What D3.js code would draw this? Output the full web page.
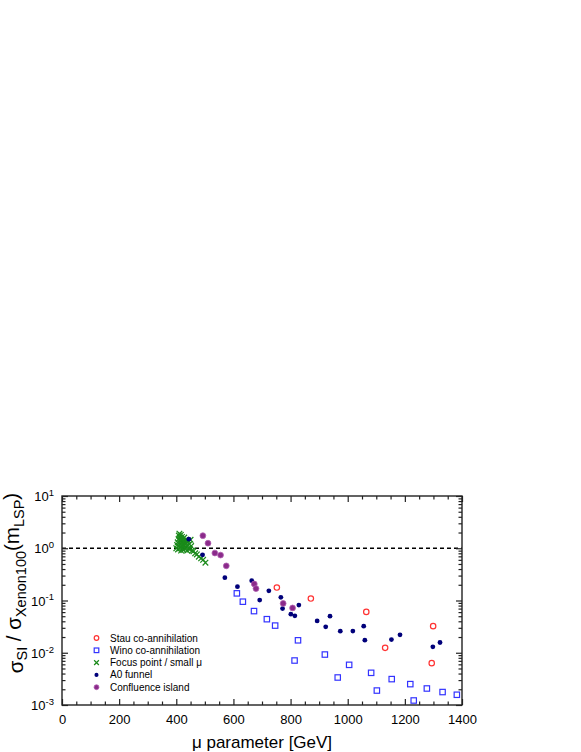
<!DOCTYPE html>
<html><head><meta charset="utf-8">
<script src="https://cdn.jsdelivr.net/npm/d3@7"></script>
<style>body{margin:0;background:#fff} svg{display:block} text{font-family:"Liberation Sans",Arial,sans-serif}</style>
</head><body><svg id="c" width="581" height="752"></svg>
<script>
// ---- data ----
const xTickValues = [0, 200, 400, 600, 800, 1000, 1200, 1400];
const yTickExponents = [-3, -2, -1, 0, 1];

const stauMu    = [752, 871, 1065, 1131, 1299, 1294];
const stauSigma = [0.177, 0.109, 0.0605, 0.0124, 0.0323, 0.00633];

const winoMu    = [612, 633, 672, 717, 746, 826, 814, 920, 965, 1005, 1082, 1102, 1154, 1219, 1231, 1277, 1332, 1382];
const winoSigma = [0.137, 0.0949, 0.0627, 0.0439, 0.0331, 0.0173, 0.0071, 0.00924, 0.00336, 0.00587, 0.00413, 0.00189, 0.00313, 0.00251, 0.00122, 0.00207, 0.00177, 0.00157];

const focusMu    = [400, 403, 405, 406, 408, 409, 410, 411, 412, 413, 414, 415, 416, 417, 418, 419, 420, 421, 422, 423, 424, 425, 426, 427, 428, 430, 431, 432, 434, 435, 437, 438, 440, 442, 444, 446, 448, 450, 452, 455, 460, 466, 472, 479, 487, 494, 502];
const focusSigma = [1.0, 1.15, 1.3, 0.95, 1.5, 1.75, 1.1, 1.9, 1.4, 1.0, 1.6, 1.25, 1.8, 0.9, 1.45, 1.1, 1.65, 1.3, 1.0, 1.5, 1.2, 0.92, 1.4, 1.1, 1.6, 1.3, 0.98, 1.2, 1.45, 1.05, 1.3, 0.9, 1.15, 1.4, 1.0, 1.2, 0.95, 1.45, 1.1, 0.9, 0.88, 0.8, 0.76, 0.69, 0.64, 0.6, 0.53];

const a0Mu    = [444, 492, 570, 614, 664, 692, 724, 766, 772, 801, 815, 829, 893, 923, 938, 974, 1018, 1056, 1060, 1153, 1183, 1298, 1323];
const a0Sigma = [1.49, 0.75, 0.274, 0.184, 0.240, 0.102, 0.153, 0.115, 0.070, 0.0547, 0.0508, 0.0817, 0.0407, 0.0313, 0.0501, 0.0259, 0.026, 0.0323, 0.0174, 0.0179, 0.0220, 0.0130, 0.0157];

const confMu    = [493, 511, 535, 555, 575, 673, 679, 774, 807];
const confSigma = [1.74, 1.25, 0.81, 0.74, 0.46, 0.207, 0.169, 0.088, 0.072];

const legendLabels = ["Stau co-annihilation", "Wino co-annihilation", "Focus point / small \u03bc", "A0 funnel", "Confluence island"];
const legendKeys   = ["stau", "wino", "focus", "a0", "conf"];

// ---- chart ----
const svg = d3.select("#c");
const L = 62, R = 462, T = 496, B = 705;
const x = d3.scaleLinear().domain([0, 1400]).range([L, R]);
const y = d3.scaleLog().domain([1e-3, 10]).range([B, T]);

const colors = {stau: "#ff3333", wino: "#3333ff", focus: "#1a8a1a", a0: "#00007a", conf: "#8a2a8a"};

function drawMarker(g, key, px, py, k) {
  k = k || 1;
  if (key === "stau") {
    g.append("circle").attr("cx", px).attr("cy", py).attr("r", 2.7 * k)
      .attr("fill", "#fff").attr("stroke", colors.stau).attr("stroke-width", 1.2);
  } else if (key === "wino") {
    const h = 2.7 * k;
    g.append("rect").attr("x", px - h).attr("y", py - h).attr("width", 2 * h).attr("height", 2 * h)
      .attr("fill", "#fff").attr("stroke", colors.wino).attr("stroke-width", 1.2);
  } else if (key === "focus") {
    const s = 2.8 * k;
    g.append("path").attr("d", `M${px - s},${py - s}L${px + s},${py + s}M${px - s},${py + s}L${px + s},${py - s}`)
      .attr("stroke", colors.focus).attr("stroke-width", 1.2).attr("fill", "none");
  } else if (key === "a0") {
    g.append("circle").attr("cx", px).attr("cy", py).attr("r", 2.4 * k).attr("fill", colors.a0);
  } else if (key === "conf") {
    g.append("circle").attr("cx", px).attr("cy", py).attr("r", 2.9 * k)
      .attr("fill", colors.conf).attr("stroke", "#b060b0").attr("stroke-width", 0.8);
  }
}

// dashed line at 1
svg.append("line").attr("x1", L).attr("x2", R).attr("y1", y(1)).attr("y2", y(1))
  .attr("stroke", "#000").attr("stroke-width", 1.5).attr("stroke-dasharray", "4,3");

// data
const series = [
  ["wino", winoMu, winoSigma],
  ["stau", stauMu, stauSigma],
  ["focus", focusMu, focusSigma],
  ["a0", a0Mu, a0Sigma],
  ["conf", confMu, confSigma]
];
const gData = svg.append("g");
series.forEach(([key, mus, sigs]) => {
  mus.forEach((m, i) => drawMarker(gData, key, x(m), y(sigs[i])));
});

// axes
const axisColor = "#222";
const minorX = d3.range(0, 1401, 50).filter(v => v % 200 !== 0);
const majorY = yTickExponents.map(e => Math.pow(10, e));
const minorY = y.ticks().filter(v => !majorY.some(m => Math.abs(m - v) / m < 1e-6));

function styleAxis(g) {
  g.select(".domain").remove();
  g.selectAll("line").attr("stroke", axisColor).attr("stroke-width", 1.2);
}

// bottom
svg.append("g").attr("transform", `translate(0,${B})`)
  .call(d3.axisBottom(x).tickValues(xTickValues).tickSize(-6).tickPadding(10).tickFormat(d3.format("d")))
  .call(styleAxis)
  .call(g => g.selectAll("text").attr("font-size", 13).attr("fill", "#000").attr("font-family", "Liberation Sans, Arial, sans-serif"));
svg.append("g").attr("transform", `translate(0,${B})`)
  .call(d3.axisBottom(x).tickValues(minorX).tickSize(-3.5).tickFormat(""))
  .call(styleAxis);
// top
svg.append("g").attr("transform", `translate(0,${T})`)
  .call(d3.axisTop(x).tickValues(xTickValues).tickSize(-6).tickFormat(""))
  .call(styleAxis);
svg.append("g").attr("transform", `translate(0,${T})`)
  .call(d3.axisTop(x).tickValues(minorX).tickSize(-3.5).tickFormat(""))
  .call(styleAxis);
// left
const leftAxis = svg.append("g").attr("transform", `translate(${L},0)`)
  .call(d3.axisLeft(y).tickValues(majorY).tickSize(-6).tickPadding(9).tickFormat(""))
  .call(styleAxis);
leftAxis.selectAll(".tick").each(function(d) {
  const e = Math.round(Math.log10(d));
  const t = d3.select(this).append("text").attr("x", -8).attr("y", 0).attr("dy", "0.36em")
    .attr("text-anchor", "end").attr("fill", "#000").attr("font-size", 13)
    .attr("font-family", "Liberation Sans, Arial, sans-serif");
  t.append("tspan").text("10");
  t.append("tspan").attr("dy", "-0.55em").attr("font-size", 9.5).text(e < 0 ? "-" + (-e) : String(e));
});
svg.append("g").attr("transform", `translate(${L},0)`)
  .call(d3.axisLeft(y).tickValues(minorY).tickSize(-3.5).tickFormat(""))
  .call(styleAxis);
// right
svg.append("g").attr("transform", `translate(${R},0)`)
  .call(d3.axisRight(y).tickValues(majorY).tickSize(-6).tickFormat(""))
  .call(styleAxis);
svg.append("g").attr("transform", `translate(${R},0)`)
  .call(d3.axisRight(y).tickValues(minorY).tickSize(-3.5).tickFormat(""))
  .call(styleAxis);

// frame
svg.append("rect").attr("x", L).attr("y", T).attr("width", R - L).attr("height", B - T)
  .attr("fill", "none").attr("stroke", axisColor).attr("stroke-width", 1.4);

// axis labels
svg.append("text").attr("x", (L + R) / 2).attr("y", 748).attr("text-anchor", "middle")
  .attr("font-size", 17).attr("fill", "#000").text("\u03bc parameter [GeV]");

const yl = svg.append("text").attr("transform", "translate(23,583) rotate(-90)")
  .attr("text-anchor", "middle").attr("font-size", 20.5).attr("fill", "#000");
yl.append("tspan").text("\u03c3");
yl.append("tspan").attr("font-size", 14.5).attr("dy", "0.3em").text("SI");
yl.append("tspan").attr("dy", "-0.3em").text(" / \u03c3");
yl.append("tspan").attr("font-size", 14.5).attr("dy", "0.3em").text("Xenon100");
yl.append("tspan").attr("dy", "-0.3em").text("(m");
yl.append("tspan").attr("font-size", 14.5).attr("dy", "0.3em").text("LSP");
yl.append("tspan").attr("dy", "-0.3em").text(")");

// legend
const legY0 = 638, legDy = 12.3;
legendKeys.forEach((k, i) => {
  const gy = legY0 + i * legDy;
  drawMarker(svg, k, 96.5, gy, 0.85);
  svg.append("text").attr("x", 110).attr("y", gy).attr("dy", "0.35em")
    .attr("font-size", 10).attr("fill", "#000").text(legendLabels[i]);
});
</script></body></html>
